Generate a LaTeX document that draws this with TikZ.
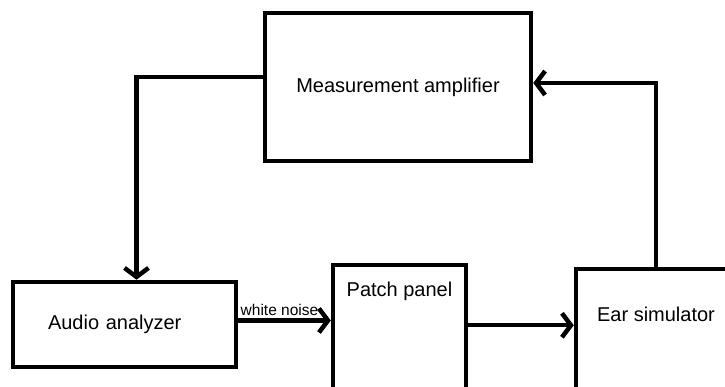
\documentclass[tikz,border=0pt]{standalone}
\usepackage{fontspec}
\setmainfont{Liberation Sans}
\usetikzlibrary{arrows.meta}
\tikzset{
	>={Straight Barb[length=9pt,width=24pt]}, % open barbed arrow heads
	box/.style={draw, line width=4.5pt, inner sep=0pt, font=\fontsize{20}{24}\selectfont}, % every block
	conn/.style={->, line width=4.5pt}, % the connecting wires
}
\begin{document}
\begin{tikzpicture}[x=1pt,y=1pt]
		\useasboundingbox (0,0) rectangle (725,387);
		\clip (0,0) rectangle (725,387);

		\node[box,minimum width=266pt,minimum height=148pt] (amp) at (398,300) {Measurement amplifier};
		\node[box,minimum width=223pt,minimum height=85pt,text width=153pt,align=left] (ana) at (124.5,62.5) {Audio analyzer};
		\node[box,minimum width=133pt,minimum height=150pt,anchor=north,
			label={[name=patchtxt,anchor=center,yshift=-28pt,font=\fontsize{20}{24}\selectfont]north:Patch panel}] (patch) at (399.5,124) {};
		\node[box,minimum width=160pt,minimum height=150pt,anchor=north,
			label={[name=eartxt,anchor=center,yshift=-47pt,font=\fontsize{20}{24}\selectfont]north:Ear simulator}] (ear) at (656,120) {};

		\coordinate (wn) at ([yshift=4pt]ana.east);
		\coordinate (pp) at ([yshift=15pt]patch.east);

		\draw[conn]
		(wn) -- node[above=-1pt,xshift=-5pt,font=\fontsize{15.5}{18}\selectfont]{white noise} (wn -| patch.west);
		\draw[conn] (pp) -- (pp -| ear.west);
		\draw[conn] (ear.north) |- ([yshift=4pt]amp.east);
		\draw[conn] ([yshift=10pt]amp.west) -| ([xshift=12pt]ana.north);

	\end{tikzpicture}
\end{document}
